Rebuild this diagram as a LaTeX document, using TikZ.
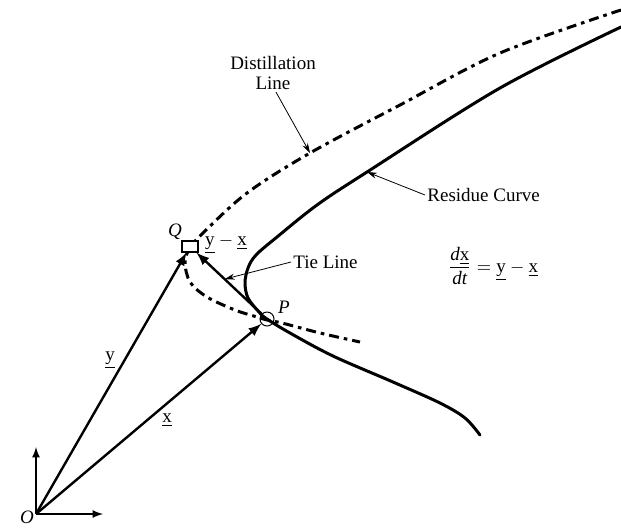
\documentclass[tikz,border=0pt]{standalone}
\usepackage{amsmath}
\usepackage{fontspec}
\setmainfont{Liberation Serif}
\usetikzlibrary{calc,arrows.meta}
\newcommand{\ux}{\underline{\textup{x}}}
\newcommand{\uy}{\underline{\textup{y}}}
\begin{document}
\begin{tikzpicture}[x=0.5pt, y=-0.5pt,
        >=latex,   %Pfeilspitzen
        font=\fontsize{9.5}{10}\selectfont,
        kurve/.style={line width=1.5pt, line cap=round},
        destlinie/.style={line width=1.5pt, dash pattern=on 5pt off 2.5pt on 1.8pt off 2.5pt},
        vektor/.style={->, line width=1.2pt},
        achse/.style={->, line width=0.8pt},
        zeiger/.style={-{Stealth[length=5pt,width=3pt]}, line width=0.4pt},
        marke/.style={inner sep=1pt}]
        \useasboundingbox (0,0) rectangle (621,527);
        % Destillationslinie
        \draw[destlinie] plot[smooth, tension=0.55] coordinates {(621,10) (500,53) (400,105) (310,153) (247,193) (203,233) (190,248) (185,262) (190,282) (207,297) (235,310) (257,317) (267,320) (282,323) (320,333) (360,342)};
        \coordinate (dl) at (310,153);
        % Rueckstandskurve
        \draw[kurve] plot[smooth, tension=0.55] coordinates {(480,435) (465,418) (440,403) (393,382) (333,356) (290,333) (267,319) (259,312) (248,298) (245,283) (248,268) (256,255) (277,237) (317,205) (367,172) (500,88) (621,27)};
        \coordinate (rc) at (367,172);
        % Punkte
        \coordinate (O) at (36,514);
        \node[draw, line width=0.6pt, fill=white, minimum width=8pt, minimum height=5.5pt, inner sep=0pt] (Q) at (190,246.5) {};
        \node[draw, circle, line width=0.5pt, minimum size=7pt, inner sep=0pt] (P) at (267,319) {};
        % Achsen
        \coordinate (ax) at (103,514);
        \coordinate (ay) at (36,447);
        \draw[achse] (O) -- (ax);
        \draw[achse] (O) -- (ay);
        % Vektoren
        \draw[vektor] (O) -- (Q);
        \draw[vektor] (O) -- (P);
        \draw[vektor] (P) -- (Q);
        \coordinate (tl) at ($(P)!0.55!(Q)$);
        % Beschriftung
        \node[marke] (oname) at (27,517) {\textit{O}};
        \node[marke] (qname) at (175,232) {\textit{Q}};
        \node[marke] (pname) at (284,307) {\textit{P}};
        \node[marke] (diff) at (226,244) {$\uy-\ux$};
        \node[marke] (yname) at (110,360) {\uy};
        \node[marke] (xname) at (167,420) {\ux};
        \node[marke, align=center] (dlabel) at (273,73) {Distillation\\Line};
        \node[marke, anchor=west] (rlabel) at (425,195) {Residue Curve};
        \node[marke, anchor=west] (tlabel) at (291,262) {Tie Line};
        \node[marke] (eq) at (493,266) {$\dfrac{\textit{d}\ux}{\textit{dt}}=\uy-\ux$};
        \draw[zeiger] ([xshift=1.5pt]dlabel.south) -- (dl);
        \draw[zeiger] (rlabel.west) -- (rc);
        \draw[zeiger] (tlabel.west) -- (tl);
    \end{tikzpicture}
\end{document}
